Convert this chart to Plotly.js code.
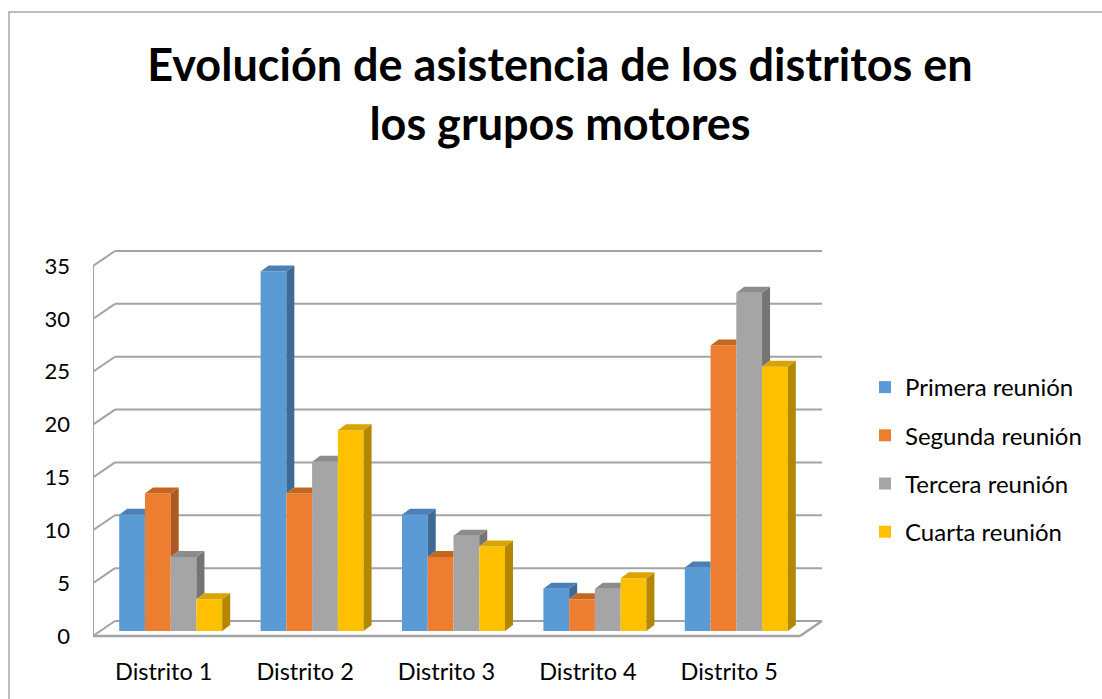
<!DOCTYPE html>
<html>
<head>
<meta charset="utf-8">
<script src="https://cdn.plot.ly/plotly-3.0.1.min.js"></script>
<style>html,body{margin:0;padding:0;background:#fff;}#chart{width:1102px;height:699px;}</style>
</head>
<body>
<div id="chart"></div>
<script>
// ---- data ----
const categories = ["Distrito 1", "Distrito 2", "Distrito 3", "Distrito 4", "Distrito 5"];
const seriesNames = ["Primera reunión", "Segunda reunión", "Tercera reunión", "Cuarta reunión"];
const primera = [11, 34, 11, 4, 6];
const segunda = [13, 13, 7, 3, 27];
const tercera = [7, 16, 9, 4, 32];
const cuarta  = [3, 19, 8, 5, 25];
const yTicks = [0, 5, 10, 15, 20, 25, 30, 35];

// ---- styles ----
const frontColors = ["#5B9BD5", "#ED7D31", "#A5A5A5", "#FFC000"];
const sideColors  = ["#3E6B95", "#AD5A22", "#747474", "#B48700"];
const topColors   = ["#4A80B6", "#C4661F", "#8C8C8C", "#D9A400"];
const gridColor = "#A3A3A3";

// geometry (pixel scale -> data units)
const PX = 141.4, PY = 10.571;
const dxW = 22 / PX, dyW = 15 / PY;   // back wall offset
const dxB = 7 / PX,  dyB = 5 / PY;    // bar plane offset
const dxD = 8 / PX,  dyD = 6 / PY;    // bar depth
const bw = 25.75 / PX;
const nS = 4;
const groupW = bw * nS;

const series = [primera, segunda, tercera, cuarta];
const xIdx = categories.map((c, i) => i);

const traces = [];
// front faces as bars
series.forEach((vals, k) => {
  traces.push({
    type: "bar", name: seriesNames[k], x: xIdx, y: vals,
    base: dyB, width: bw, offset: -groupW / 2 + k * bw + dxB,
    marker: {color: frontColors[k], line: {width: 0}},
    legendgroup: "g" + k, hoverinfo: "y+name"
  });
});
// side and top faces
categories.forEach((c, i) => {
  series.forEach((vals, k) => {
    const v = vals[i];
    const L = i - groupW / 2 + k * bw + dxB;
    const R = L + bw;
    const b = dyB, t = dyB + v;
    const next = k < nS - 1 ? series[k + 1][i] : null;
    // side face (visible above the next bar)
    const sb = next === null ? b : dyB + Math.min(next, v);
    if (sb < t) {
      traces.push({type: "scatter", mode: "lines", fill: "toself",
        x: [R, R + dxD, R + dxD, R, R], y: [sb, sb + dyD, t + dyD, t, sb],
        fillcolor: sideColors[k], line: {width: 0, color: sideColors[k]},
        showlegend: false, hoverinfo: "skip"});
    }
    // top face
    let tx, ty;
    if (next !== null && next > v) {
      tx = [L, R, R, L + dxD, L]; ty = [t, t, t + dyD, t + dyD, t];
    } else {
      tx = [L, R, R + dxD, L + dxD, L]; ty = [t, t, t + dyD, t + dyD, t];
    }
    traces.push({type: "scatter", mode: "lines", fill: "toself",
      x: tx, y: ty, fillcolor: topColors[k], line: {width: 0, color: topColors[k]},
      showlegend: false, hoverinfo: "skip"});
  });
});

// walls / gridlines
const x0 = -0.5, x1 = categories.length - 0.5;
const shapes = [];
const ln = (a, b, c, d, w) => ({type: "line", xref: "x", yref: "y", x0: a, y0: b, x1: c, y1: d,
  line: {color: gridColor, width: w || 2}, layer: "below"});
yTicks.forEach(v => {
  shapes.push(ln(x0 + dxW, v + dyW, x1 + dxW, v + dyW));
  shapes.push(ln(x0, v, x0 + dxW, v + dyW));
});
shapes.push(ln(x0, 0, x0, yTicks[yTicks.length - 1]));
shapes.push(ln(x0, 0, x1, 0, 2.5));
shapes.push(ln(x1, 0, x1 + dxW, dyW, 2.5));

// chart border (paper coords computed from plot area)
const mL = 93, mR = 257, mT = 230, mB = 44;
const pw = 1102 - mL - mR, ph = 699 - mT - mB;
const px2p = p => (p - mL) / pw;
const py2p = p => (699 - mB - p) / ph;
shapes.push({type: "rect", xref: "paper", yref: "paper",
  x0: px2p(9), x1: px2p(1130), y0: py2p(730), y1: py2p(12),
  line: {color: "#A8A8A8", width: 1.5}, fillcolor: "rgba(0,0,0,0)", layer: "below"});

const layout = {
  width: 1102, height: 699,
  margin: {l: mL, r: mR, t: mT, b: mB},
  paper_bgcolor: "#fff", plot_bgcolor: "rgba(0,0,0,0)",
  font: {family: "Lato, 'DejaVu Sans', sans-serif", color: "#000"},
  title: {text: "Evolución de asistencia de los distritos en<br>los grupos motores",
    font: {family: "Lato, sans-serif", size: 45, weight: 700, color: "#000"},
    x: 560 / 1102, xref: "container", xanchor: "center",
    y: 1 - 81 / 699, yref: "container", yanchor: "top"},
  barmode: "overlay",
  showlegend: true,
  legend: {x: px2p(865), y: py2p(365), xanchor: "left", yanchor: "top",
    font: {size: 24, family: "Lato, sans-serif", color: "#000"},
    traceorder: "grouped", tracegroupgap: 14, bgcolor: "rgba(0,0,0,0)"},
  xaxis: {range: [x0, x0 + pw / PX], tickvals: xIdx, ticktext: categories,
    showgrid: false, zeroline: false, showline: false, ticks: "",
    tickfont: {size: 23.5, family: "Lato, sans-serif", color: "#000"}, fixedrange: true},
  yaxis: {range: [-(699 - mB - 636) / PY, (636 - mT) / PY], tickvals: yTicks,
    showgrid: false, zeroline: false, showline: false, ticks: "",
    ticklabelstandoff: 22,
    tickfont: {size: 22, family: "Lato, sans-serif", color: "#000"}, fixedrange: true},
  shapes: shapes
};

Plotly.newPlot("chart", traces, layout, {displayModeBar: false, staticPlot: true});
</script>
</body>
</html>
